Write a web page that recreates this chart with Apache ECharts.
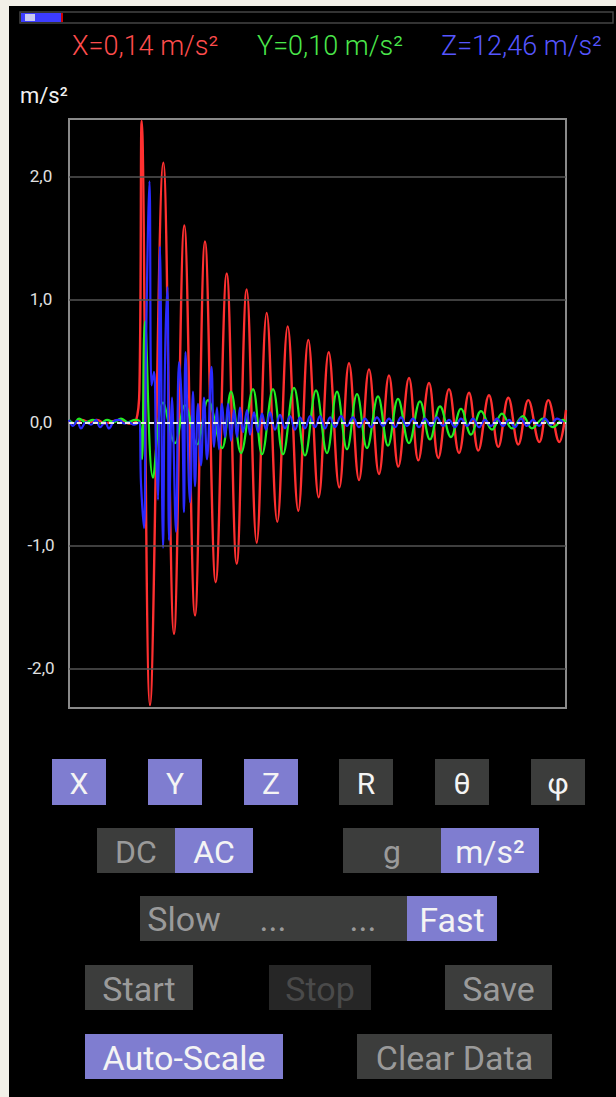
<!DOCTYPE html>
<html><head><meta charset="utf-8">
<script src="https://cdn.jsdelivr.net/npm/echarts@6/dist/echarts.min.js"></script>
<style>
html,body{margin:0;padding:0;background:#f2f0e8;width:616px;height:1097px;overflow:hidden;}
#panel{position:absolute;left:9px;top:6px;width:607px;height:1091px;background:#000;}
#chart{position:absolute;left:0;top:0;width:616px;height:1097px;}
</style></head><body><div id="panel"></div><div id="chart"></div>
<script>
// ---- data (sample index, m/s²) ----
const redT = [0, 6, 13, 20, 28, 36, 44, 52, 60, 67, 70.5, 72.7, 81, 94.3, 105, 115.3, 126, 136, 146.7, 157.7, 167.7, 177.7, 187.7, 197.7, 208.3, 218.7, 229.3, 239.3, 249.7, 259.7, 270.3, 280, 290, 300, 310, 320, 329.3, 340, 349.3, 360, 369.3, 380, 390, 400, 409.3, 420, 429.3, 439.3, 449.3, 459.3, 470.3, 479.3, 490.3, 497];
const redV = [0.01, -0.01, 0.02, 0.0, 0.02, -0.01, 0.01, 0.02, -0.01, 0.01, 0.3, 2.45, -2.30, 2.11, -1.72, 1.60, -1.57, 1.47, -1.30, 1.21, -1.15, 1.08, -0.98, 0.89, -0.81, 0.78, -0.72, 0.67, -0.61, 0.57, -0.53, 0.48, -0.47, 0.43, -0.42, 0.38, -0.36, 0.36, -0.31, 0.32, -0.29, 0.27, -0.25, 0.24, -0.23, 0.22, -0.20, 0.20, -0.18, 0.18, -0.16, 0.18, -0.16, 0.10];

const greenT = [0, 5, 10, 17, 24, 31, 38, 45, 52, 59, 66, 71, 73, 76, 84, 94, 106, 116, 128, 139, 153, 162, 172, 184, 193, 204, 214, 225, 236, 247, 258, 268, 278, 288, 298, 309, 319, 329, 340, 351, 361, 371, 382, 392, 402, 412, 423, 433, 443, 454, 463, 474, 484, 494, 497];
const greenV = [0.02, -0.01, 0.03, 0.0, 0.02, -0.01, 0.02, 0.0, 0.03, 0.0, 0.02, 0.0, -0.3, 0.82, -0.45, 0.16, -0.17, 0.14, -0.18, 0.18, -0.21, 0.25, -0.25, 0.27, -0.26, 0.27, -0.26, 0.28, -0.27, 0.26, -0.25, 0.25, -0.22, 0.23, -0.21, 0.21, -0.19, 0.19, -0.17, 0.17, -0.14, 0.13, -0.12, 0.11, -0.10, 0.09, -0.06, 0.07, -0.05, 0.05, -0.05, 0.03, -0.04, 0.02, 0.0];

const blueT = [0, 4, 8, 12, 17, 22, 27, 31, 36, 40, 45, 50, 55, 60, 65, 70, 72, 75, 77, 80.5, 82.5, 85, 87, 89, 91, 94, 96, 98.5, 100, 103, 107, 110, 113, 115, 116.5, 121, 124, 126, 129, 132, 135, 138, 142.5, 145, 148, 150, 153, 156, 159, 162, 165, 168, 171, 174, 178, 181, 185, 189, 193, 197, 201, 206, 211, 216, 221, 226, 231, 236, 241, 246, 251, 256, 261, 266, 272, 278, 284, 290, 296, 302, 308, 314, 320, 326, 332, 338, 344, 350, 356, 362, 368, 374, 380, 386, 392, 398, 404, 410, 416, 422, 428, 434, 440, 446, 452, 458, 464, 470, 476, 482, 488, 494, 497];
const blueV = [0.02, -0.03, 0.01, -0.05, 0.0, -0.02, 0.02, -0.04, 0.0, -0.05, 0.01, 0.02, -0.01, 0.0, -0.02, 0.0, -0.5, -0.86, 0.6, 1.96, 0.3, 0.41, -0.2, -0.63, 1.43, -1.02, 0.5, 1.10, -0.96, 0.2, -0.89, 0.49, 0.1, -0.73, 0.57, -0.65, 0.25, -0.52, 0.15, -0.35, 0.2, -0.3, 0.45, -0.2, 0.12, -0.22, 0.15, -0.12, 0.15, -0.15, 0.1, -0.12, 0.12, -0.08, 0.1, -0.1, 0.08, -0.08, 0.07, -0.06, 0.08, -0.06, 0.06, -0.05, 0.05, -0.06, 0.04, -0.05, 0.05, -0.04, 0.05, -0.05, 0.04, -0.04, 0.05, -0.03, 0.04, -0.04, 0.03, -0.04, 0.04, -0.03, 0.03, -0.04, 0.04, -0.03, 0.03, -0.04, 0.03, -0.03, 0.04, -0.03, 0.02, -0.04, 0.03, -0.03, 0.03, -0.04, 0.02, -0.03, 0.03, -0.03, 0.02, -0.04, 0.03, -0.03, 0.02, -0.03, 0.03, -0.02, 0.03, 0.0];

const yTicks = [-2, -1, 0, 1, 2];
const yMin = -2.323, yMax = 2.466;
const readoutAxes = ['X', 'Y', 'Z'];
const readoutValues = ['0,14', '0,10', '12,46'];
const unit = 'm/s²';

// ---- build ----
const zip = (t, v) => t.map((x, i) => [x, v[i]]);
const FONT = 'Roboto';
const PURPLE = '#7f7dd0', DARK = '#3c3d3c', DIM = '#262626';

const g = [];
// progress bar
g.push({type:'rect', shape:{x:20,y:12,width:593,height:11}, style:{fill:'#000', stroke:'#444', lineWidth:1.5}});
g.push({type:'rect', shape:{x:21,y:13,width:41,height:9}, style:{fill:'#3c3cff'}});
g.push({type:'rect', shape:{x:25,y:14,width:10,height:7}, style:{fill:'#c8c8f0'}});
g.push({type:'rect', shape:{x:61,y:13,width:2,height:9}, style:{fill:'#d00000'}});
// readouts
const readColors = ['#ff4d4d', '#4be84b', '#5656ff'];
const readX = [72, 257, 441];
readoutAxes.forEach((a, i) => {
  g.push({type:'text', x: readX[i], y: 46, style:{text: a + '=' + readoutValues[i] + ' ' + unit, fill: readColors[i], font: '300 27px ' + FONT, align:'left', verticalAlign:'middle'}});
});
// unit label
g.push({type:'text', x: 20, y: 95, style:{text: unit, fill:'#f0f0f0', font:'22px ' + FONT, align:'left', verticalAlign:'middle'}});

function btn(x, y, w, h, label, fill, color, size) {
  g.push({type:'rect', shape:{x, y, width:w, height:h}, style:{fill}});
  if (label) g.push({type:'text', x: x + w/2, y: y + h/2 + 1, style:{text: label, fill: color, font: size + 'px ' + FONT, align:'center', verticalAlign:'middle'}});
}
// row 1
[['X',52,true],['Y',148,true],['Z',244,true],['R',339,false],['θ',435,false],['φ',531,false]].forEach(b => {
  btn(b[1], 759, 54, 46, b[0], b[2] ? PURPLE : DARK, '#f4f4f4', 30);
});
// row 2
btn(97, 828, 78, 45, 'DC', DARK, '#9a9a9a', 32);
btn(175, 828, 78, 45, 'AC', PURPLE, '#f4f4f4', 32);
btn(343, 828, 98, 45, 'g', DARK, '#9a9a9a', 32);
btn(441, 828, 98, 45, 'm/s²', PURPLE, '#f4f4f4', 32);
// row 3
btn(140, 896, 267, 45, '', DARK, '#9a9a9a', 34);
[['Slow',184],['...',273],['...',363]].forEach(t => g.push({type:'text', x:t[1], y:919, style:{text:t[0], fill:'#9a9a9a', font:'34px ' + FONT, align:'center', verticalAlign:'middle'}}));
btn(407, 896, 90, 45, 'Fast', PURPLE, '#f4f4f4', 34);
// row 4
btn(85, 965, 108, 45, 'Start', DARK, '#9a9a9a', 34);
btn(269, 965, 102, 45, 'Stop', DIM, '#4a4a4a', 34);
btn(445, 965, 107, 45, 'Save', DARK, '#9a9a9a', 34);
// row 5
btn(85, 1034, 198, 45, 'Auto-Scale', PURPLE, '#f4f4f4', 34);
btn(357, 1034, 195, 45, 'Clear Data', DARK, '#9a9a9a', 34);

const chart = echarts.init(document.getElementById('chart'), null, {renderer:'svg'});
chart.setOption({
  animation: false,
  backgroundColor: 'transparent',
  grid: {left: 69, top: 119, right: 50, bottom: 389, show: true, backgroundColor: '#000', borderColor: '#8a8a8a', borderWidth: 2},
  xAxis: {type:'value', min: 0, max: 497, show: false},
  yAxis: {type:'value', min: yMin, max: yMax,
    axisLine:{show:false}, axisTick:{show:false}, splitLine:{show:false},
    axisLabel:{customValues: yTicks, formatter: v => v.toFixed(1).replace('.', ','), color:'#e0e0e0', fontSize:17, fontFamily: FONT, margin: 28, align:'center'}},
  series: [
    {type:'line', data: [], silent: true, z: 1,
     markLine:{silent:true, symbol:'none', label:{show:false}, lineStyle:{color:'#555', width:1.5, type:'solid'}, data: yTicks.filter(v => v !== 0).map(v => ({yAxis: v}))}},
    {type:'line', data: zip(redT, redV), smooth: 0.4, showSymbol:false, silent:true, z: 2, lineStyle:{color:'#ff3030', width:2.4}},
    {type:'line', data: zip(greenT, greenV), smooth: 0.4, showSymbol:false, silent:true, z: 3, lineStyle:{color:'#22ee22', width:2.2}},
    {type:'line', data: zip(blueT, blueV), smooth: 0.4, showSymbol:false, silent:true, z: 4, lineStyle:{color:'#2a2aff', width:2.2}},
    {type:'line', data: [], silent: true, z: 5,
     markLine:{silent:true, symbol:'none', label:{show:false}, lineStyle:{color:'#e8e8e8', width:2, type:[5,3]}, data: [{yAxis: 0}]}}
  ],
  graphic: g
});
</script></body></html>
